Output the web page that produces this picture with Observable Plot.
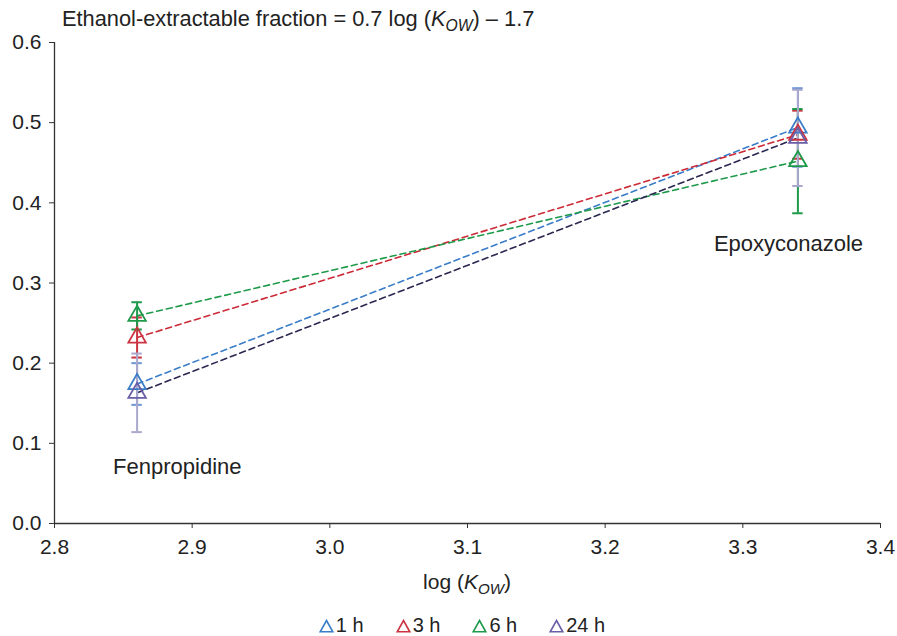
<!DOCTYPE html>
<html>
<head>
<meta charset="utf-8">
<script src="https://cdn.jsdelivr.net/npm/d3@7"></script>
<script src="https://cdn.jsdelivr.net/npm/@observablehq/plot@0.6"></script>
<style>
  body { margin: 0; background: #fff; font-family: "Liberation Sans", Arial, sans-serif; color: #222; }
  #wrap { position: relative; width: 897px; height: 636px; }
  #title { position: absolute; left: 62px; top: 6px; font-size: 21.8px; line-height: 26px; white-space: nowrap; }
  #xlabel { position: absolute; left: 0; width: 934px; top: 569px; line-height: 26px; text-align: center; font-size: 21px; }
  #legend { position: absolute; left: 0; width: 924px; top: 613px; line-height: 24px; text-align: center; font-size: 20px; }
  #legend span.item { margin: 0 16px; }
  #legend svg { vertical-align: -1px; margin-right: 2px; }
  #chart { position: absolute; left: 0; top: 32px; }
  i sub, sub { font-size: 0.72em; }
</style>
</head>
<body>
<div id="wrap">
  <div id="title">Ethanol-extractable fraction = 0.7 log (<i>K<sub>OW</sub></i>) – 1.7</div>
  <div id="chart"></div>
  <div id="xlabel">log (<i>K<sub>OW</sub></i>)</div>
  <div id="legend"></div>
</div>
<script>
// ---- data ----
const compounds = ["Fenpropidine", "Epoxyconazole"];
const logKow = [2.86, 3.34];
const series = ["1 h", "3 h", "6 h", "24 h"];
const mean1h = [0.174, 0.494];
const err1h = [0.026, 0.049];
const mean3h = [0.232, 0.485];
const err3h = [0.025, 0.030];
const mean6h = [0.259, 0.452];
const err6h = [0.017, 0.065];
const mean24h = [0.163, 0.481];
const err24h = [0.049, 0.060];
const yTicks = [0.0, 0.1, 0.2, 0.3, 0.4, 0.5, 0.6];
const xTicks = [2.8, 2.9, 3.0, 3.1, 3.2, 3.3, 3.4];

// ---- styles ----
const markerColor = {"1 h": "#3a7dc8", "3 h": "#cc3340", "6 h": "#1e9a4a", "24 h": "#6a5ea8"};
const lineColor   = {"1 h": "#3a7dc8", "3 h": "#cc2a36", "6 h": "#1e9a4a", "24 h": "#2a2850"};
const barColor    = {"1 h": "#6d98d2", "3 h": "#cc3340", "6 h": "#1e9a4a", "24 h": "#aba8cd"};

const means = [mean1h, mean3h, mean6h, mean24h];
const errs = [err1h, err3h, err6h, err24h];
const rows = [];
series.forEach((s, si) => {
  compounds.forEach((c, ci) => {
    rows.push({series: s, compound: c, x: logKow[ci], y: means[si][ci], e: errs[si][ci]});
  });
});
const capHalf = 0.0038;
const font = "Liberation Sans, Arial, sans-serif";

const marks = [
  Plot.axisY({ticks: yTicks, tickFormat: d3.format(".1f"), tickSize: 5, tickPadding: 8, fontSize: 21, label: null, stroke: "#333"}),
  Plot.axisX({ticks: xTicks, tickFormat: d3.format(".1f"), tickSize: 5, tickPadding: 11, fontSize: 21, label: null, stroke: "#333"}),
  Plot.ruleY([0], {stroke: "#333", strokeWidth: 1.3}),
  Plot.ruleX([2.8], {stroke: "#333", strokeWidth: 1.3})
];
series.forEach(s => {
  const d = rows.filter(r => r.series === s);
  marks.push(Plot.line(d, {x: "x", y: "y", stroke: lineColor[s], strokeWidth: 1.6, strokeDasharray: "6,4"}));
});
series.forEach(s => {
  const d = rows.filter(r => r.series === s);
  marks.push(Plot.ruleX(d, {x: "x", y1: r => r.y - r.e, y2: r => r.y + r.e, stroke: barColor[s], strokeWidth: 2}));
  marks.push(Plot.ruleY(d, {y: r => r.y - r.e, x1: r => r.x - capHalf, x2: r => r.x + capHalf, stroke: barColor[s], strokeWidth: 2}));
  marks.push(Plot.ruleY(d, {y: r => r.y + r.e, x1: r => r.x - capHalf, x2: r => r.x + capHalf, stroke: barColor[s], strokeWidth: 2}));
});
series.forEach(s => {
  const d = rows.filter(r => r.series === s);
  marks.push(Plot.dot(d, {x: "x", y: "y", symbol: "triangle", r: 6.5, stroke: markerColor[s], strokeWidth: 1.8, fill: "none"}));
});
const lowest = compounds.map((c, ci) => ({compound: c, x: logKow[ci], y: d3.min(rows.filter(r => r.compound === c), r => r.y - r.e)}));
marks.push(Plot.text([lowest[0]], {x: "x", y: "y", text: "compound", textAnchor: "start", dx: -24, dy: 35, fontSize: 22, fill: "#222"}));
marks.push(Plot.text([lowest[1]], {x: "x", y: "y", text: "compound", textAnchor: "start", dx: -84, dy: 31, fontSize: 22, fill: "#222"}));

const chart = Plot.plot({
  width: 897,
  height: 530,
  marginTop: 10,
  marginBottom: 39,
  marginLeft: 54,
  marginRight: 17,
  style: {fontFamily: font, fontSize: "21px", color: "#222", background: "#fff", overflow: "visible"},
  x: {domain: [2.8, 3.4]},
  y: {domain: [0, 0.6]},
  marks
});
document.getElementById("chart").appendChild(chart);

// legend
const legend = document.getElementById("legend");
series.forEach(s => {
  const span = document.createElement("span");
  span.className = "item";
  span.innerHTML = `<svg width="15" height="14" viewBox="0 0 15 14"><path d="M7.5,1.5 L13.8,12.8 L1.2,12.8 Z" fill="none" stroke="${markerColor[s]}" stroke-width="1.6"/></svg>${s}`;
  legend.appendChild(span);
});
</script>
</body>
</html>
